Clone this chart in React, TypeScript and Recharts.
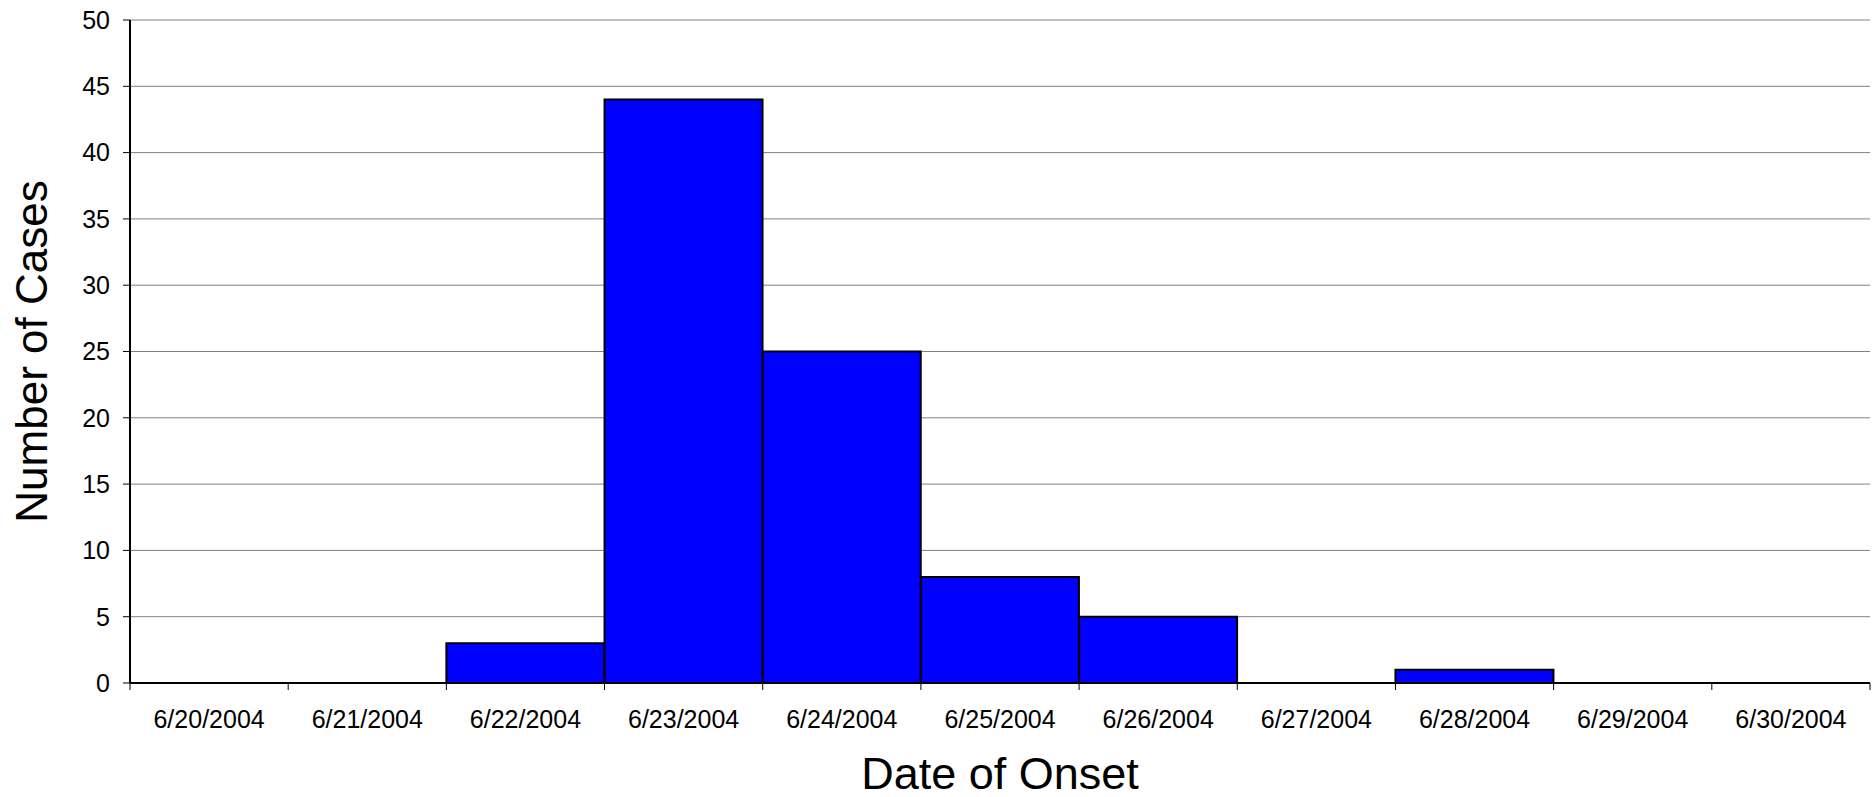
import { BarChart, Bar, XAxis, YAxis, CartesianGrid } from 'recharts'

const dates = [
    "6/20/2004",
    "6/21/2004",
    "6/22/2004",
    "6/23/2004",
    "6/24/2004",
    "6/25/2004",
    "6/26/2004",
    "6/27/2004",
    "6/28/2004",
    "6/29/2004",
    "6/30/2004"
]
const cases = [0, 0, 3, 44, 25, 8, 5, 0, 1, 0, 0]
const yTicks = [0, 5, 10, 15, 20, 25, 30, 35, 40, 45, 50]

const W = 1873
const H = 797
const LEFT = 130
const RIGHT = 1870
const TOP = 20
const BOTTOM = 683
const FONT = '"Liberation Sans", Arial, sans-serif'

const band = (RIGHT - LEFT) / dates.length

function DateTick(props: any) {
    const { x, y, payload } = props
    const left = x - band / 2
    return (
        <g>
            <line x1={left} y1={y} x2={left} y2={y + 7} stroke="#000" strokeWidth={1} />
            {payload.index === dates.length - 1 && (
                <line x1={left + band} y1={y} x2={left + band} y2={y + 7} stroke="#000" strokeWidth={1} />
            )}
            <text x={x} y={y + 36} dy="0.355em" textAnchor="middle" fontSize={25} fill="#000" fontFamily={FONT}>
                {payload.value}
            </text>
        </g>
    )
}

export default function App() {
    const chartData = dates.map((d, i) => ({ date: d, cases: cases[i] }))

    return (
        <div style={{ position: 'absolute', left: 0, top: 0, background: '#fff' }}>
            <BarChart
                width={W}
                height={H}
                data={chartData}
                margin={{ top: TOP, right: W - RIGHT, left: 0, bottom: 0 }}
                barCategoryGap={0}
                barGap={0}
            >
                <CartesianGrid horizontal={true} vertical={false} stroke="#808080" strokeWidth={1} />
                <XAxis
                    dataKey="date"
                    interval={0}
                    height={H - BOTTOM}
                    tickLine={false}
                    tickSize={0}
                    tickMargin={0}
                    tick={<DateTick />}
                    axisLine={{ stroke: '#000', strokeWidth: 2 }}
                    label={{ value: 'Date of Onset', position: 'insideBottom', offset: 8, fontSize: 45, fill: '#000', fontFamily: FONT }}
                />
                <XAxis xAxisId="top" orientation="top" dataKey="date" height={0} tick={false} tickLine={false} axisLine={{ stroke: '#808080', strokeWidth: 3 }} />
                <YAxis
                    domain={[0, 50]}
                    ticks={yTicks}
                    interval={0}
                    width={LEFT}
                    tickSize={7}
                    tickMargin={13}
                    tickLine={{ stroke: '#000' }}
                    axisLine={{ stroke: '#000', strokeWidth: 2 }}
                    tick={{ fontSize: 25, fill: '#000', fontFamily: FONT }}
                    label={{ value: 'Number of Cases', angle: -90, position: 'insideLeft', offset: 31, fontSize: 44, fill: '#000', fontFamily: FONT, style: { textAnchor: 'middle' } }}
                />
                <YAxis yAxisId="right" orientation="right" width={0} tick={false} tickLine={false} axisLine={{ stroke: '#808080', strokeWidth: 3 }} />
                <Bar dataKey="cases" fill="#0000FF" stroke="#000" strokeWidth={2} isAnimationActive={false} />
            </BarChart>
        </div>
    )
}
